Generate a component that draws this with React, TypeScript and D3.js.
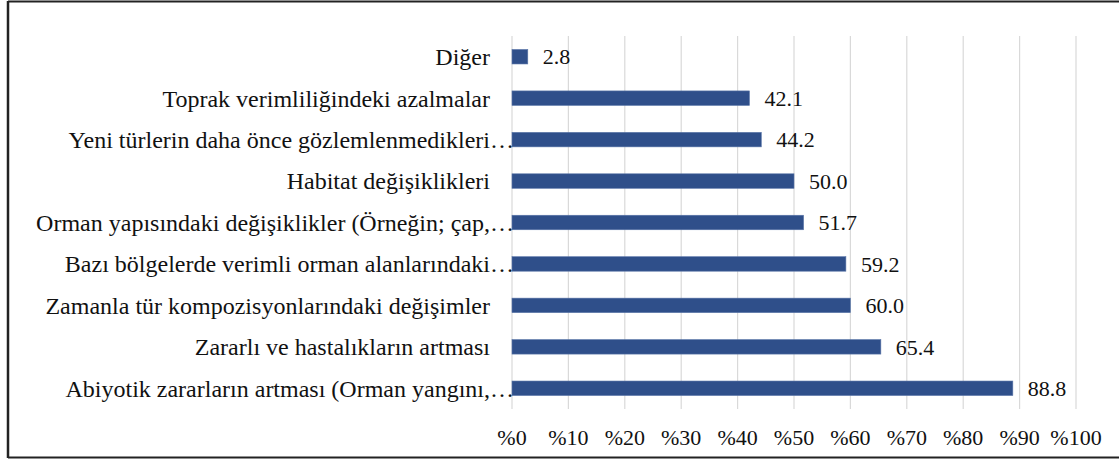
import React from 'react';
import * as d3 from 'd3';

// kategoriler (yukarıdan aşağıya), "…" ile bitenler kesilmiş etiketler
const categories = [
  'Diğer',
  'Toprak verimliliğindeki azalmalar',
  'Yeni türlerin daha önce gözlemlenmedikleri…',
  'Habitat değişiklikleri',
  'Orman yapısındaki değişiklikler (Örneğin; çap,…',
  'Bazı bölgelerde verimli orman alanlarındaki…',
  'Zamanla tür kompozisyonlarındaki değişimler',
  'Zararlı ve hastalıkların artması',
  'Abiyotik zararların artması (Orman yangını,…',
];
const values = [2.8, 42.1, 44.2, 50.0, 51.7, 59.2, 60.0, 65.4, 88.8];
const ticks = [0, 10, 20, 30, 40, 50, 60, 70, 80, 90, 100];

const W = 1119;
const H = 459;
const font =
  "'Liberation Serif', Tinos, 'Times New Roman', Times, 'Noto Serif', 'DejaVu Serif', serif";
const barColor = '#2F4F8A';

export default function App() {
  const margin = { top: 36, bottom: 50, left: 512, right: 43 };

  const x = d3.scaleLinear().domain([0, 100]).range([margin.left, W - margin.right]);
  const y = d3
    .scaleBand()
    .domain(categories)
    .range([margin.top, H - margin.bottom])
    .paddingInner(0.65)
    .paddingOuter(0.325);

  const labelX = margin.left - 22;

  return (
    <svg width={W} height={H} style={{ position: 'absolute', left: 0, top: 0, background: '#fff' }}>
      {/* çerçeve */}
      <line x1={8} x2={W} y1={1.5} y2={1.5} stroke="#222" strokeWidth={2} />
      <line x1={8} x2={8} y1={1} y2={458} stroke="#222" strokeWidth={2.5} />
      <line x1={8} x2={W} y1={457.5} y2={457.5} stroke="#222" strokeWidth={2} />

      {/* ızgara */}
      {ticks.map((t) => (
        <line
          key={t}
          x1={x(t)}
          x2={x(t)}
          y1={margin.top}
          y2={H - margin.bottom}
          stroke="#D9D9D9"
          strokeWidth={1.2}
        />
      ))}

      {/* çubuklar */}
      {categories.map((c, i) => (
        <rect
          key={c}
          x={x(0)}
          y={y(c)}
          width={x(values[i]) - x(0)}
          height={y.bandwidth()}
          fill={barColor}
          stroke="#5A76A8"
          strokeWidth={0.6}
        />
      ))}

      <g style={{ fontFamily: font }} fill="#111">
        {/* değer etiketleri */}
        {categories.map((c, i) => (
          <text key={c} x={x(values[i]) + 15} y={y(c)! + y.bandwidth() / 2} dy="0.35em" fontSize={22}>
            {values[i].toFixed(1)}
          </text>
        ))}

        {/* kategori etiketleri */}
        {categories.map((c) => {
          const cut = c.endsWith('…');
          const base = cut ? c.slice(0, -1) : c;
          const cy = y(c)! + y.bandwidth() / 2;
          return (
            <g key={c} fontSize={24}>
              <text x={labelX} y={cy} dy="0.35em" textAnchor="end">
                {base}
              </text>
              {cut && (
                <text x={labelX} y={cy} dy="0.35em">
                  …
                </text>
              )}
            </g>
          );
        })}

        {/* eksen etiketleri */}
        {ticks.map((t) => (
          <text key={t} x={x(t)} y={445} textAnchor="middle" fontSize={22}>
            {`%${t}`}
          </text>
        ))}
      </g>
    </svg>
  );
}
